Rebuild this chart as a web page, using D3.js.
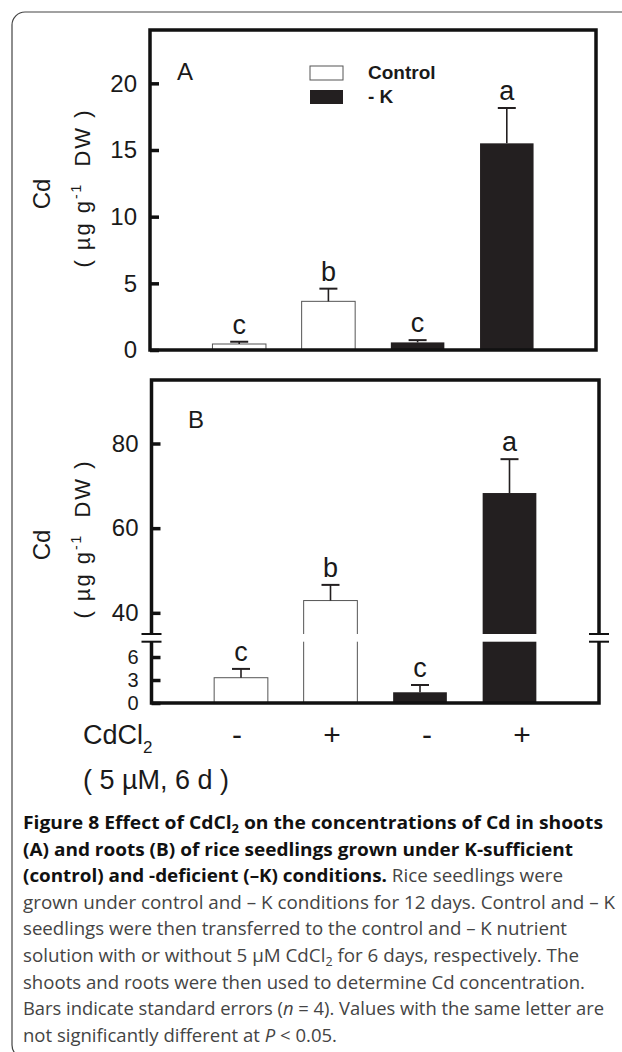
<!DOCTYPE html>
<html>
<head>
<meta charset="utf-8">
<script src="https://cdn.jsdelivr.net/npm/d3@7"></script>
<style>
body { margin: 0; background: #fff; }
svg text { font-family: "Liberation Sans", Arial, sans-serif; fill: #1a1a1a; }
svg .cap text { font-family: "Open Sans", sans-serif; }
</style>
</head>
<body>
<div id="fig"></div>
<script>
// groups, left to right: control -Cd, control +Cd, -K -Cd, -K +Cd
var groups = ["ctl0", "ctl5", "k0", "k5"];
var treatment = ["Control", "Control", "- K", "- K"];
var cdcl2Labels = ["-", "+", "-", "+"];
var legendLabels = ["Control", "- K"];

// (A) shoots
var shootCd = [0.45, 3.65, 0.57, 15.5];
var shootSe = [0.17, 0.95, 0.17, 2.65];
var shootLetters = ["c", "b", "c", "a"];
var shootTicks = [0, 5, 10, 15, 20];

// (B) roots, broken axis
var rootCd = [3.3, 42.9, 1.4, 68.3];
var rootSe = [1.15, 3.7, 0.95, 8.0];
var rootLetters = ["c", "b", "c", "a"];
var rootLowTicks = [0, 3, 6];
var rootHighTicks = [40, 60, 80];

var W = 622, H = 1052;
var ink = "#231f20";

var svg = d3.select("#fig").append("svg")
    .attr("width", W)
    .attr("height", H);

// page frame
svg.append("rect")
    .attr("x", 12).attr("y", 12)
    .attr("width", 640).attr("height", 1046)
    .attr("rx", 13)
    .attr("fill", "none")
    .attr("stroke", "#444")
    .attr("stroke-width", 1.2);

var color = d3.scaleOrdinal().domain(legendLabels).range(["#fff", ink]);

function styleAxis(size) {
    return function(g) {
        g.select(".domain").remove();
        g.selectAll("line").attr("stroke", "#111").attr("stroke-width", 3.5);
        g.selectAll("text")
            .attr("font-size", size)
            .attr("font-family", "Liberation Sans, Arial, sans-serif")
            .attr("fill", "#1a1a1a");
    };
}

function drawBars(g, x, yFn, vals, bw) {
    g.selectAll("rect.bar")
        .data(groups)
        .enter().append("rect")
        .attr("class", "bar")
        .attr("x", function(d) { return x(d) - bw / 2; })
        .attr("y", function(d, i) { return yFn(vals[i]); })
        .attr("width", bw)
        .attr("height", function(d, i) { return yFn(0) - yFn(vals[i]); })
        .attr("fill", function(d, i) { return color(treatment[i]); })
        .attr("stroke", function(d, i) { return treatment[i] == "Control" ? "#555" : "none"; })
        .attr("stroke-width", 1);
}

function drawErrors(g, x, yFn, vals, se, letters) {
    var e = g.selectAll("g.err")
        .data(groups)
        .enter().append("g")
        .attr("class", "err");
    e.append("line")
        .attr("x1", function(d) { return x(d); })
        .attr("x2", function(d) { return x(d); })
        .attr("y1", function(d, i) { return yFn(vals[i]); })
        .attr("y2", function(d, i) { return yFn(vals[i] + se[i]); })
        .attr("stroke", ink).attr("stroke-width", 1.6);
    e.append("line")
        .attr("x1", function(d) { return x(d) - 9; })
        .attr("x2", function(d) { return x(d) + 9; })
        .attr("y1", function(d, i) { return yFn(vals[i] + se[i]); })
        .attr("y2", function(d, i) { return yFn(vals[i] + se[i]); })
        .attr("stroke", ink).attr("stroke-width", 2);
    e.append("text")
        .attr("x", function(d) { return x(d); })
        .attr("y", function(d, i) { return yFn(vals[i] + se[i]) - 8; })
        .attr("text-anchor", "middle")
        .attr("font-size", 27)
        .text(function(d, i) { return letters[i]; });
}

function yLabel(g, cy) {
    g.append("text")
        .attr("transform", "translate(50," + cy + ") rotate(-90)")
        .attr("text-anchor", "middle")
        .attr("font-size", 24)
        .text("Cd");
    var t = g.append("text")
        .attr("transform", "translate(90," + (cy - 5) + ") rotate(-90)")
        .attr("text-anchor", "middle")
        .attr("font-size", 22)
        .attr("textLength", 157)
        .attr("lengthAdjust", "spacing")
        .style("white-space", "pre");
    t.append("tspan").text("( \u00b5g g");
    t.append("tspan").attr("dy", -9).attr("font-size", 14).text("-1");
    t.append("tspan").attr("dy", 9).text("  DW )");
}

// ---------- panel A ----------
var gA = svg.append("g");
var xA = d3.scalePoint().domain(groups).range([150, 596]).padding(1);
var yA = d3.scaleLinear().domain([0, 24]).range([350, 30]);
var bwA = xA.step() * 0.6;

drawBars(gA, xA, yA, shootCd, bwA);
drawErrors(gA, xA, yA, shootCd, shootSe, shootLetters);

gA.append("g")
    .attr("transform", "translate(150,0)")
    .call(d3.axisLeft(yA).tickValues(shootTicks).tickSizeInner(-9).tickSizeOuter(0).tickPadding(13))
    .call(styleAxis(24));

gA.append("rect")
    .attr("x", 150).attr("y", yA(24))
    .attr("width", 446).attr("height", yA(0) - yA(24))
    .attr("fill", "none").attr("stroke", "#111").attr("stroke-width", 3.5);

gA.append("text").attr("x", 177).attr("y", 80).attr("font-size", 24).text("A");
yLabel(gA, 194);

// legend
var leg = gA.selectAll("g.leg")
    .data(legendLabels)
    .enter().append("g")
    .attr("class", "leg")
    .attr("transform", function(d, i) { return "translate(310," + (66 + i * 24) + ")"; });
leg.append("rect")
    .attr("width", 33).attr("height", 14)
    .attr("fill", function(d) { return color(d); })
    .attr("stroke", function(d, i) { return i == 0 ? "#555" : "none"; });
leg.append("text")
    .attr("x", 58).attr("y", 13)
    .attr("font-size", 19).attr("font-weight", "bold")
    .text(function(d) { return d; });

// ---------- panel B ----------
var gB = svg.append("g");
var xB = d3.scalePoint().domain(groups).range([151.5, 599]).padding(1);
var yLow = d3.scaleLinear().domain([0, 8]).range([703, 641.7]);
var yHigh = d3.scaleLinear().domain([35, 95]).range([634, 380]);
function yB(v) { return v > yLow.domain()[1] ? yHigh(v) : yLow(v); }
var bwB = xB.step() * 0.6;

drawBars(gB, xB, yB, rootCd, bwB);

// white gap through bars that cross the break
var gapTop = yHigh(35), gapBot = yLow(8);
gB.selectAll("rect.gap")
    .data(groups.filter(function(d, i) { return rootCd[i] > yLow.domain()[1]; }))
    .enter().append("rect")
    .attr("class", "gap")
    .attr("x", function(d) { return xB(d) - bwB / 2 - 2; })
    .attr("y", gapTop)
    .attr("width", bwB + 4)
    .attr("height", gapBot - gapTop)
    .attr("fill", "#fff");

drawErrors(gB, xB, yB, rootCd, rootSe, rootLetters);

var bx0 = 151.5, bx1 = 599;
gB.append("g")
    .attr("transform", "translate(" + bx0 + ",0)")
    .call(d3.axisLeft(yHigh).tickValues(rootHighTicks).tickSizeInner(-9).tickSizeOuter(0).tickPadding(13))
    .call(styleAxis(24));
gB.append("g")
    .attr("transform", "translate(" + bx0 + ",0)")
    .call(d3.axisLeft(yLow).tickValues(rootLowTicks).tickSizeInner(-9).tickSizeOuter(0).tickPadding(13))
    .call(styleAxis(20));

var boxTop = yHigh(95), boxBot = yLow(0);
gB.append("path")
    .attr("d", "M" + bx0 + "," + gapTop + "V" + boxTop + "H" + bx1 + "V" + gapTop +
               "M" + bx0 + "," + gapBot + "V" + boxBot + "H" + bx1 + "V" + gapBot)
    .attr("fill", "none").attr("stroke", "#111").attr("stroke-width", 3.5);

// break marks
[bx0, bx1].forEach(function(x) {
    [gapTop, gapBot].forEach(function(y) {
        gB.append("line")
            .attr("x1", x - 10).attr("x2", x + 10)
            .attr("y1", y).attr("y2", y)
            .attr("stroke", "#111").attr("stroke-width", 2);
    });
});

gB.append("text").attr("x", 188).attr("y", 428).attr("font-size", 24).text("B");
yLabel(gB, 545);

// CdCl2 treatment row
var xLab = d3.scalePoint().domain(groups).range([237, 522]);
svg.selectAll("text.cd")
    .data(groups)
    .enter().append("text")
    .attr("class", "cd")
    .attr("x", function(d) { return xLab(d); })
    .attr("y", 745)
    .attr("text-anchor", "middle")
    .attr("font-size", 30)
    .text(function(d, i) { return cdcl2Labels[i]; });

var cd = svg.append("text").attr("x", 83).attr("y", 744).attr("font-size", 27);
cd.append("tspan").text("CdCl");
cd.append("tspan").attr("font-size", 17).attr("dy", 9).text("2");
svg.append("text").attr("x", 83).attr("y", 789).attr("font-size", 27)
    .style("white-space", "pre").text("( 5 \u00b5M, 6 d )");

// ---------- caption ----------
var captionLines = [
    [["Figure 8 Effect of CdCl", "b"], ["2", "bsub"], [" on the concentrations of Cd in shoots", "b"]],
    [["(A) and roots (B) of rice seedlings grown under K-sufficient", "b"]],
    [["(control) and -deficient (\u2013K) conditions.", "b"], [" Rice seedlings were", "r"]],
    [["grown under control and \u2013 K conditions for 12 days. Control and \u2013 K", "r"]],
    [["seedlings were then transferred to the control and \u2013 K nutrient", "r"]],
    [["solution with or without 5 \u03bcM CdCl", "r"], ["2", "sub"], [" for 6 days, respectively. The", "r"]],
    [["shoots and roots were then used to determine Cd concentration.", "r"]],
    [["Bars indicate standard errors (", "r"], ["n", "i"], [" = 4). Values with the same letter are", "r"]],
    [["not significantly different at ", "r"], ["P", "i"], [" < 0.05.", "r"]]
];
var captionWidths = [580, 550, 540, 592, 544, 556, 562, 581, 314];

var cap = svg.append("g").attr("class", "cap");
captionLines.forEach(function(line, li) {
    var t = cap.append("text")
        .attr("x", 23)
        .attr("y", 829 + li * 26.6)
        .attr("font-size", 18)
        .attr("textLength", captionWidths[li])
        .attr("lengthAdjust", "spacingAndGlyphs")
        .style("white-space", "pre");
    var shift = 0;
    line.forEach(function(seg) {
        var s = t.append("tspan").text(seg[0]);
        var bold = seg[1] == "b" || seg[1] == "bsub";
        var sub = seg[1] == "sub" || seg[1] == "bsub";
        s.attr("font-weight", bold ? 700 : 400)
         .style("fill", bold ? "#111" : "#444");
        if (seg[1] == "i") s.attr("font-style", "italic");
        if (sub) { s.attr("font-size", 12).attr("dy", 4); shift = 4; }
        else if (shift) { s.attr("dy", -shift); shift = 0; }
    });
});
</script>
</body>
</html>
